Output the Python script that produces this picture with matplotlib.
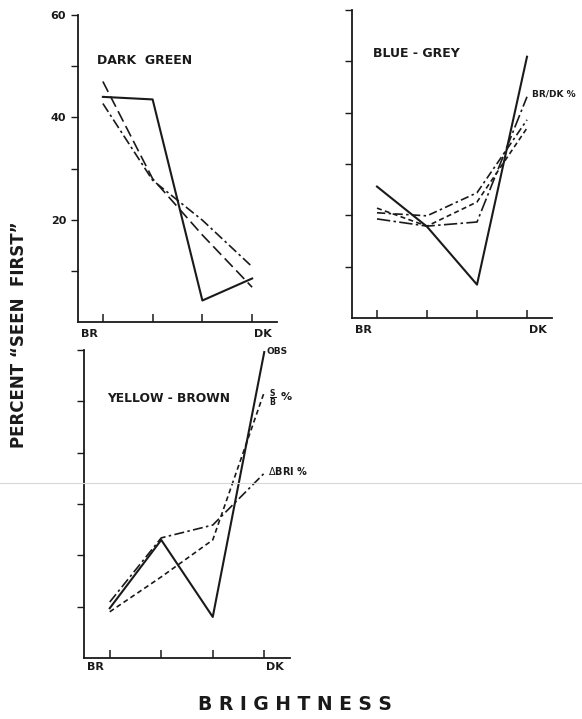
import matplotlib
matplotlib.use("Agg")
import matplotlib.pyplot as plt
from matplotlib.lines import Line2D

# brightness steps, BR (1) to DK (4)
steps = [1, 2, 3, 4]

# dark green
green_obs = [44.0, 43.5, 4.2, 8.5]
green_a = [47.0, 28.0, 17.0, 6.8]
green_b = [42.7, 27.7, 19.9, 10.8]

# blue - grey
grey_obs = [25.6, 17.8, 6.5, 50.9]
grey_a = [20.5, 19.9, 24.4, 38.6]
grey_b = [21.4, 17.9, 22.6, 37.0]
grey_brdk = [19.3, 17.9, 18.7, 43.1]

# yellow - brown
yellow_obs = [9.7, 23.0, 8.0, 59.6]
yellow_sb = [9.0, 15.8, 23.0, 51.8]
yellow_dbri = [10.9, 23.4, 25.9, 36.0]

yticks = [10, 20, 30, 40, 50, 60]

W, H = 582, 719
fig = plt.figure(figsize=(W / 100, H / 100), dpi=100)
ink = "#1a1a1a"


def make_axes(left, right, top, bottom):
    ax = fig.add_axes([left / W, 1 - bottom / H, (right - left) / W, (bottom - top) / H])
    ax.set_xlim(0.5, 4.5)
    ax.set_ylim(0, 60)
    for s in ["top", "right"]:
        ax.spines[s].set_visible(False)
    for s in ["left", "bottom"]:
        ax.spines[s].set_linewidth(1.3)
        ax.spines[s].set_color(ink)
    ax.set_xticks(steps)
    ax.set_xticklabels([])
    ax.tick_params(axis="x", direction="in", length=6, width=1.1, color=ink)
    ax.set_yticks(yticks)
    ax.set_yticklabels([])
    ax.tick_params(axis="y", direction="out", length=5, width=1.0, color=ink)
    return ax


def end_labels(ax, y, dk=4.22):
    ax.text(0.72, y, "BR", fontsize=8, fontweight="bold", color=ink, ha="center", va="center",
            transform=ax.get_xaxis_transform(), clip_on=False)
    ax.text(dk, y, "DK", fontsize=8, fontweight="bold", color=ink, ha="center", va="center",
            transform=ax.get_xaxis_transform(), clip_on=False)


# panel 1 - dark green
ax1 = make_axes(78, 277, 15, 322)
ax1.set_yticklabels(["", "20", "", "40", "", "60"], fontsize=8, fontweight="bold", color=ink)
ax1.plot(steps, green_obs, color=ink, lw=1.5)
ax1.plot(steps, green_a, color=ink, lw=1.2, ls=(0, (7, 3)))
ax1.plot(steps, green_b, color=ink, lw=1.2, ls=(0, (6, 2, 1.5, 2)))
ax1.text(0.88, 51.2, "DARK  GREEN", fontsize=9, fontweight="bold", color=ink, va="center")
end_labels(ax1, -0.04)

# panel 2 - blue - grey
ax2 = make_axes(352, 552, 10, 318)
ax2.plot(steps, grey_obs, color=ink, lw=1.5)
ax2.plot(steps, grey_a, color=ink, lw=1.2, ls=(0, (5, 2, 1.5, 2)))
ax2.plot(steps, grey_b, color=ink, lw=1.2, ls=(0, (3, 2)))
ax2.plot(steps, grey_brdk, color=ink, lw=1.2, ls=(0, (8, 2, 1.5, 2)))
ax2.text(0.92, 51.5, "BLUE - GREY", fontsize=9, fontweight="bold", color=ink, va="center")
ax2.text(4.1, 43.6, "BR/DK %", fontsize=6.5, fontweight="bold", color=ink, va="center")
end_labels(ax2, -0.04)

# panel 3 - yellow - brown
ax3 = make_axes(84, 290, 350, 658)
ax3.plot(steps, yellow_obs, color=ink, lw=1.5)
ax3.plot(steps, yellow_sb, color=ink, lw=1.2, ls=(0, (3, 2)))
ax3.plot(steps, yellow_dbri, color=ink, lw=1.2, ls=(0, (6, 2, 1.5, 2)))
ax3.text(0.95, 50.6, "YELLOW - BROWN", fontsize=8.8, fontweight="bold", color=ink, va="center")
ax3.text(4.05, 59.8, "OBS", fontsize=6.5, fontweight="bold", color=ink, va="center")
ax3.text(4.1, 50.6, r"$\mathbf{\frac{S}{B}}$ %", fontsize=8, fontweight="bold", color=ink, va="center")
ax3.text(4.08, 36.5, r"$\Delta$BRI %", fontsize=7, fontweight="bold", color=ink, va="center")
end_labels(ax3, -0.03, dk=4.2)

# shared axis titles
fig.text(19 / W, 1 - 335 / H, "PERCENT \u201cSEEN  FIRST\u201d", rotation=90, fontsize=12,
         fontweight="bold", color=ink, ha="center", va="center")
fig.text(295 / W, 1 - 705 / H, "B R I G H T N E S S", fontsize=13.5, fontweight="bold",
         color=ink, ha="center", va="center")

# faint scan line across the page
fig.add_artist(Line2D([0, 1], [1 - 483 / H, 1 - 483 / H], color="#d8d8d8", lw=0.8))

fig.savefig("out.png", dpi=100)
